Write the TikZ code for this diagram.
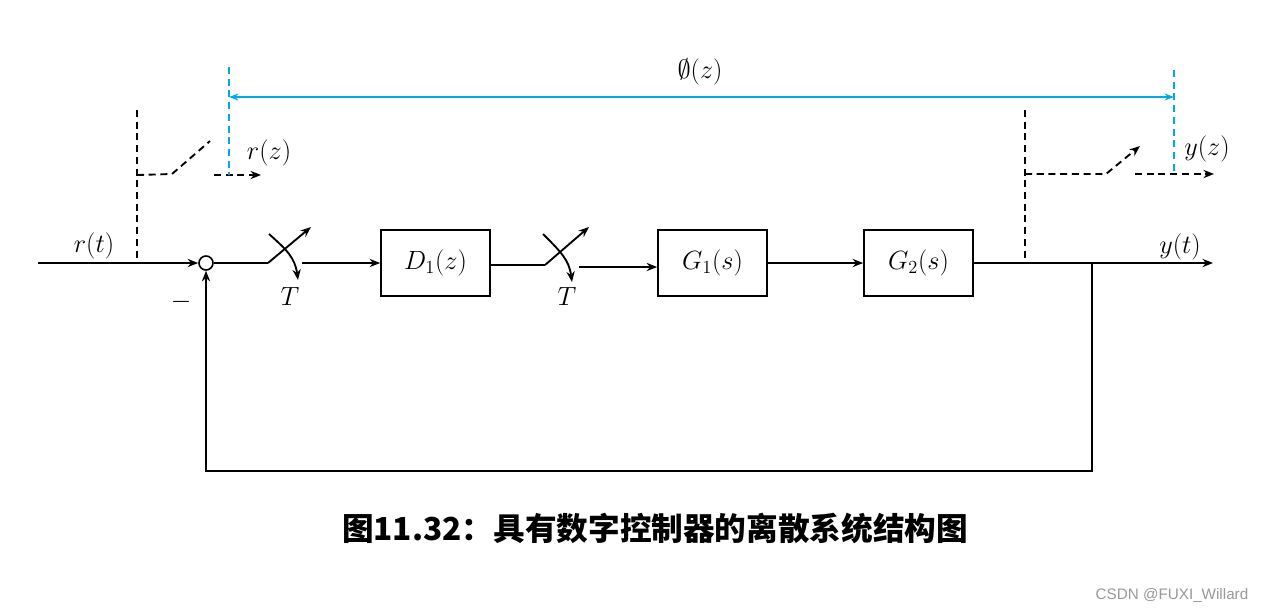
\RequirePackage{fix-cm}
\documentclass[tikz,border=0pt]{standalone}
\usepackage{fontspec}
\newfontfamily\cjk{Noto Sans CJK SC}
\newfontfamily\wm{Liberation Sans}
\usetikzlibrary{arrows.meta}
\definecolor{cyanl}{RGB}{0,170,230}
\newlength{\pxu}\setlength{\pxu}{0.03cm}
\newcommand{\mathfont}{\fontsize{22.5}{26}\selectfont}
\tikzset{
  ln/.style={line width=1.6pt},
  arr/.style={ln,-{Stealth[length=9pt,width=7pt]}},
  dsh/.style={line width=1.6pt,dash pattern=on 6pt off 4pt},
  darr/.style={dsh,-{Stealth[length=9pt,width=7pt]}},
  blk/.style={draw,line width=1.4pt,minimum width=109\pxu,minimum height=66\pxu,inner sep=0pt,font=\mathfont},
  lbl/.style={font=\mathfont,inner sep=0pt},
  bluedash/.style={draw=cyanl,line width=1.6pt,dash pattern=on 6pt off 4pt},
}
\begin{document}
\begin{tikzpicture}[x=0.03cm,y=-0.03cm]
\fill[white] (0,0) rectangle (1268,613);
\useasboundingbox (0,0) rectangle (1268,613);
% blocks
\node[blk] (D1) at (435.5,263) {$D_1(z)$};
\node[blk] (G1) at (712.5,263) {$G_1(s)$};
\node[blk] (G2) at (918.5,263) {$G_2(s)$};
\node[circle,draw,line width=1.4pt,minimum size=14\pxu,inner sep=0pt] (sum) at (206,263) {};
% input
\coordinate (in) at (38,263);
\draw[arr] (in) -- (sum);
\node[lbl] (rt) at (94,246) {$r(t)$};
\node[lbl] (minus) at (181,302) {$-$};
% switch 1
\coordinate (s1a) at (268,263);
\coordinate (s1tip) at (311,227);
\coordinate (s1c) at (269,234);
\coordinate (s1ct) at (298,280);
\coordinate (s1b) at (302,263);
\draw[ln] (sum) -- (s1a);
\draw[arr] (s1a) -- (s1tip);
\draw[arr] (s1c) .. controls (287,250) and (295,258) .. (s1ct);
\draw[arr] (s1b) -- (D1.west);
\node[lbl] (T1) at (290,296) {$T$};
% switch 2
\coordinate (s2a) at (545,265);
\coordinate (s2tip) at (589,227);
\coordinate (s2c) at (543,234);
\coordinate (s2ct) at (572,282);
\coordinate (s2b) at (579,267);
\draw[ln] (D1.east |- s2a) -- (s2a);
\draw[arr] (s2a) -- (s2tip);
\draw[arr] (s2c) .. controls (561,252) and (569,260) .. (s2ct);
\draw[arr] (s2b) -- (s2b -| G1.west);
\node[lbl] (T2) at (567,296) {$T$};
% G1 -> G2
\draw[arr] (G1.east) -- (G2.west);
% output
\coordinate (out) at (1213,263);
\coordinate (fb) at (1092,263);
\draw[arr] (G2.east) -- (out);
\node[lbl] (yt) at (1180,247) {$y(t)$};
% feedback
\coordinate (fb1) at (1092,471);
\coordinate (fb2) at (206,471);
\draw[arr] (fb) -- (fb1) -- (fb2) -- (sum.south);
% left sampler (dashed)
\coordinate (la) at (137,110);
\coordinate (lb) at (137,263);
\coordinate (lc) at (137,175);
\coordinate (ld) at (172,174);
\coordinate (le) at (210,141);
\coordinate (lf) at (214,175);
\coordinate (lg) at (261,175);
\draw[dsh] (la) -- (lb);
\draw[dsh] (lc) -- (ld) -- (le);
\draw[darr] (lf) -- (lg);
\node[lbl] (rz) at (269,153) {$r(z)$};
% right sampler (dashed)
\coordinate (ra) at (1025,110);
\coordinate (rb) at (1025,262);
\coordinate (rc) at (1025,174);
\coordinate (rd) at (1106,174);
\coordinate (re) at (1140,146);
\coordinate (rf) at (1135,174);
\coordinate (rg) at (1214,174);
\draw[dsh] (ra) -- (rb);
\draw[darr] (rc) -- (rd) -- (re);
\draw[darr] (rf) -- (rg);
\node[lbl] (yz) at (1207,149) {$y(z)$};
% blue span
\coordinate (b1t) at (229,67);
\coordinate (b1b) at (229,175);
\coordinate (b2t) at (1174,70);
\coordinate (b2b) at (1174,175);
\coordinate (bl) at (229,97);
\coordinate (br) at (1174,97);
\draw[bluedash] (b1t) -- (b1b);
\draw[bluedash] (b2t) -- (b2b);
\draw[draw=cyanl,line width=1.6pt,{Stealth[length=8pt,width=6pt]}-{Stealth[length=8pt,width=6pt]}] (bl) -- (br);
\node[lbl] (phiz) at (700,72) {$\emptyset(z)$};
% caption
\node[font=\cjk\bfseries\fontsize{27}{32}\selectfont,inner sep=0pt] (cap) at (655,528) {图11.32：具有数字控制器的离散系统结构图};
\node[font=\wm\fontsize{13}{15}\selectfont,text=gray!80,inner sep=0pt] (wmk) at (1172,595) {CSDN @FUXI\_Willard};
\end{tikzpicture}
\end{document}
